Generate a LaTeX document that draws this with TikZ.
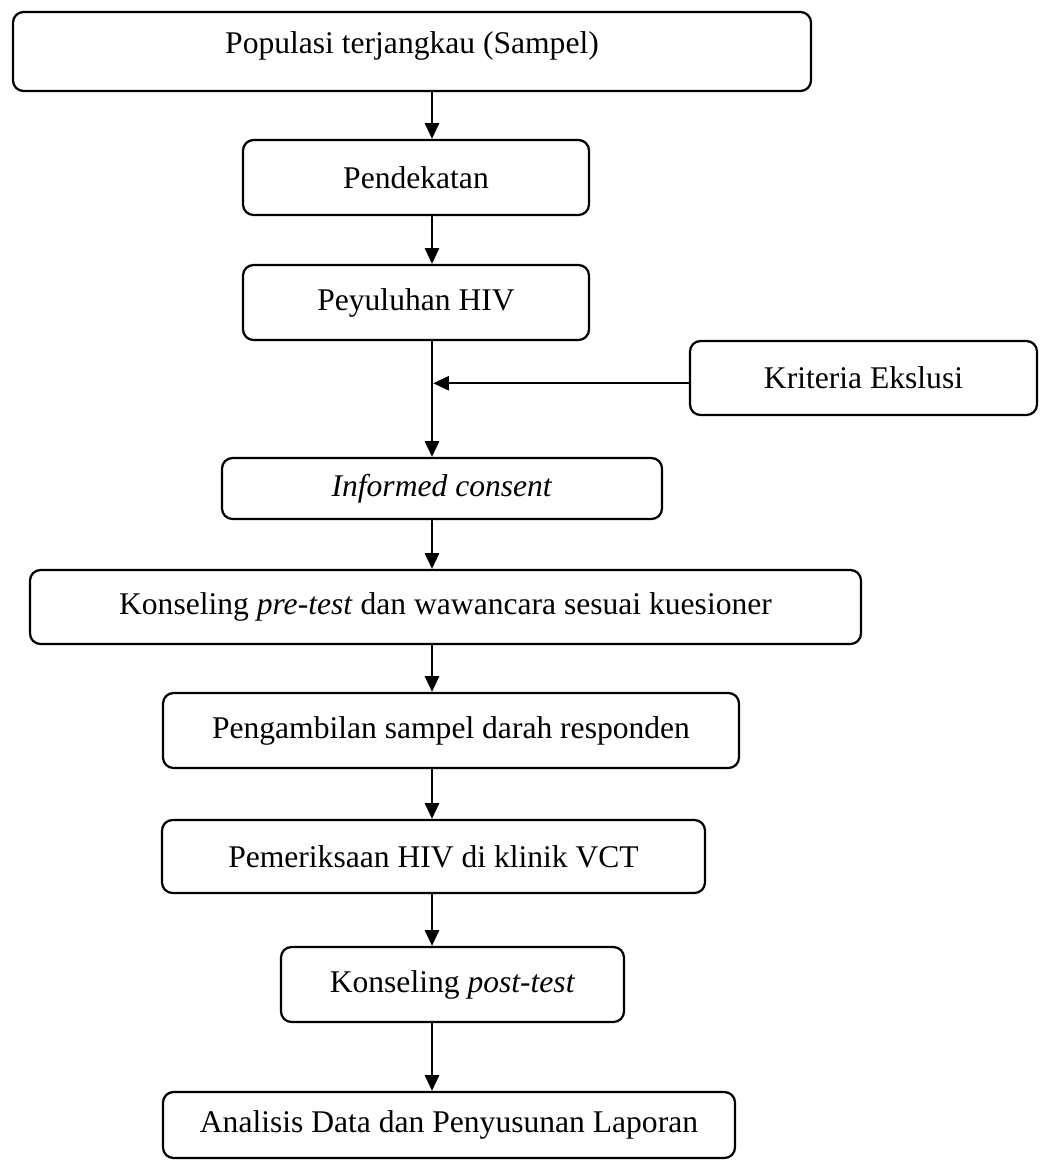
\documentclass[tikz,border=0pt]{standalone}
\usepackage{fontspec}
\setmainfont{Liberation Serif}
\usetikzlibrary{arrows.meta}

\tikzset{
  kotak/.style={draw, line width=0.85pt, rounded corners=4pt, inner sep=0pt, align=center, font=\fontsize{12}{14}\selectfont},
  panah/.style={line width=0.85pt, -{Triangle[length=6pt,width=5.4pt]}}
}

\begin{document}
\begin{tikzpicture}[x=0.38pt,y=0.38pt,yscale=-1]
%set diagram left start at 0, and has height of 1160
\useasboundingbox (0,0) rectangle (1041,1160);

%Shape: Rounded Rect [Populasi]
\node [kotak, minimum width=798*0.38pt, minimum height=79*0.38pt, text depth=7pt] (pop) at (412,51.5) {Populasi terjangkau (Sampel)};
%Shape: Rounded Rect [Pendekatan]
\node [kotak, minimum width=346*0.38pt, minimum height=75*0.38pt] (dekat) at (416,177.5) {Pendekatan};
%Shape: Rounded Rect [Penyuluhan]
\node [kotak, minimum width=346*0.38pt, minimum height=75*0.38pt] (suluh) at (416,302.5) {Peyuluhan HIV};
%Shape: Rounded Rect [Kriteria]
\node [kotak, minimum width=347*0.38pt, minimum height=74*0.38pt] (eksklusi) at (863.5,378) {Kriteria Ekslusi};
%Shape: Rounded Rect [Consent]
\node [kotak, minimum width=440*0.38pt, minimum height=61*0.38pt] (consent) at (442,488.5) {\textit{Informed consent}};
%Shape: Rounded Rect [Pre-test]
\node [kotak, minimum width=831*0.38pt, minimum height=74*0.38pt] (pretest) at (445.5,607) {Konseling \textit{pre-test} dan wawancara sesuai kuesioner};
%Shape: Rounded Rect [Sampel darah]
\node [kotak, minimum width=576*0.38pt, minimum height=75*0.38pt] (darah) at (451,730.5) {Pengambilan sampel darah responden};
%Shape: Rounded Rect [Pemeriksaan]
\node [kotak, minimum width=543*0.38pt, minimum height=73*0.38pt] (periksa) at (433.5,856.5) {Pemeriksaan HIV di klinik VCT};
%Shape: Rounded Rect [Post-test]
\node [kotak, minimum width=343*0.38pt, minimum height=75*0.38pt] (posttest) at (452.5,984.5) {Konseling \textit{post-test}};
%Shape: Rounded Rect [Analisis]
\node [kotak, minimum width=572*0.38pt, minimum height=66*0.38pt] (analisis) at (449,1125) {Analisis Data dan Penyusunan Laporan};

%vertical axis of the arrows
\coordinate (sumbu) at (432,0);

%Straight Lines
\draw [panah] (pop.south -| sumbu) -- (dekat.north -| sumbu);
\draw [panah] (dekat.south -| sumbu) -- (suluh.north -| sumbu);
\draw [panah] (suluh.south -| sumbu) -- (consent.north -| sumbu);
\draw [panah] ([yshift=2pt]eksklusi.west) -- ([yshift=2pt,xshift=0.45pt]eksklusi.west -| sumbu);
\draw [panah] (consent.south -| sumbu) -- (pretest.north -| sumbu);
\draw [panah] (pretest.south -| sumbu) -- (darah.north -| sumbu);
\draw [panah] (darah.south -| sumbu) -- (periksa.north -| sumbu);
\draw [panah] (periksa.south -| sumbu) -- (posttest.north -| sumbu);
\draw [panah] (posttest.south -| sumbu) -- (analisis.north -| sumbu);

\end{tikzpicture}
\end{document}
